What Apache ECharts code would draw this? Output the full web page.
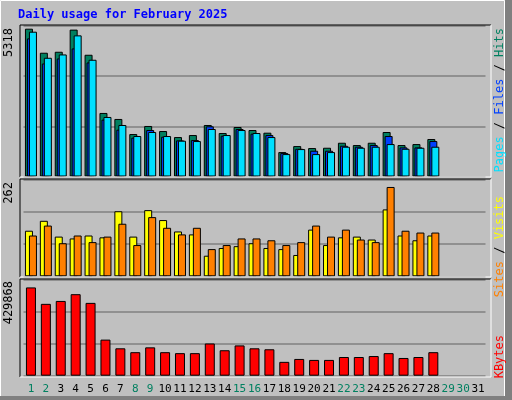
<!DOCTYPE html>
<html>
<head>
<meta charset="utf-8">
<script src="https://cdn.jsdelivr.net/npm/echarts@6/dist/echarts.min.js"></script>
<style>
html,body{margin:0;padding:0;background:#c0c0c0;}
#chart{width:512px;height:400px;}
</style>
</head>
<body>
<div id="chart"></div>
<script>
// 每日数据
const days = [];
for (let d = 1; d <= 31; d++) days.push(String(d));
const weekend = [1, 2, 8, 9, 15, 16, 22, 23, 29, 30];

const hits  = [5223,4373,4408,5190,4302,2245,2033,1500,1785,1607,1394,1465,1820,1536,1749,1642,1548,863,1075,1005,1016,1193,1111,1193,1572,1111,1146,1324];
const files = [4880,3994,4171,4526,4030,2009,1655,1371,1642,1406,1276,1288,1773,1442,1678,1513,1465,828,980,910,910,1087,1052,1111,1430,1028,1028,1253];
const pages = [5117,4195,4313,4987,4125,2104,1820,1430,1572,1430,1265,1253,1678,1465,1642,1536,1394,792,969,792,863,1052,1016,1052,1146,980,1016,1052];
const visits = [124,151,108,103,111,106,177,108,180,153,122,114,56,77,82,90,77,74,58,127,85,106,108,100,182,111,98,111];
const sites  = [111,138,90,111,93,108,143,85,161,132,114,132,74,85,103,103,98,85,93,138,108,127,100,93,243,124,119,119];
const kbytes = [396580,322760,335790,366180,327100,162100,123030,105660,127370,105660,101320,101320,144740,114340,136050,123030,118680,62240,75260,70920,70920,83950,83950,88290,101320,79600,83950,105660];

const maxHits = 5318, maxVisits = 262, maxKB = 429868;

const mono = 'DejaVu Sans Mono';
const grids = [
	{left: 23.5, right: 26.5, top: 26, height: 150.5},
	{left: 23.5, right: 26.5, top: 180, height: 96.3},
	{left: 23.5, right: 26.5, top: 280, height: 95.7}
];

function xAxis(i){
	return {
		type: 'category', gridIndex: i, data: days,
		axisLine: {show: false}, axisTick: {show: false},
		axisLabel: i < 2 ? {show: false} : {
			interval: 0, margin: 8, fontFamily: mono, fontSize: 11,
			formatter: v => weekend.indexOf(+v) >= 0 ? '{w|' + v + '}' : v,
			color: '#000',
			rich: {w: {color: '#008060', fontFamily: mono, fontSize: 11}}
		}
	};
}
function yAxis(i, max){
	return {
		type: 'value', gridIndex: i, min: 0, max: max, interval: max / 3,
		axisLabel: {show: false}, axisLine: {show: false}, axisTick: {show: false},
		splitLine: {lineStyle: {color: '#808080', width: 1.5}}
	};
}
function bar(name, data, color, i, width, gap){
	return {
		name: name, type: 'bar', xAxisIndex: i, yAxisIndex: i, data: data,
		barWidth: width, barGap: gap, animation: false,
		itemStyle: {color: color, borderColor: '#000', borderWidth: 1}
	};
}
function frame(top, bottom){
	return [
		{type: 'line', shape: {x1: 20, y1: top, x2: 491, y2: top}, style: {stroke: '#000', lineWidth: 1}, z: 100},
		{type: 'line', shape: {x1: 20, y1: top, x2: 20, y2: bottom}, style: {stroke: '#000', lineWidth: 1}, z: 100},
		{type: 'line', shape: {x1: 20, y1: bottom, x2: 491, y2: bottom}, style: {stroke: '#fff', lineWidth: 1}, z: 100},
		{type: 'line', shape: {x1: 491, y1: top, x2: 491, y2: bottom}, style: {stroke: '#fff', lineWidth: 1}, z: 100}
	];
}
function vtext(x, y, rich, text){
	return {type: 'text', x: x, y: y, rotation: Math.PI / 2,
		style: {text: text, rich: rich, fontFamily: mono, fontSize: 12, align: 'right', verticalAlign: 'middle'}, z: 100};
}

const chart = echarts.init(document.getElementById('chart'));
chart.setOption({
	backgroundColor: '#c0c0c0',
	animation: false,
	grid: grids,
	xAxis: [xAxis(0), xAxis(1), xAxis(2)],
	yAxis: [yAxis(0, maxHits), yAxis(1, maxVisits), yAxis(2, maxKB)],
	series: [
		bar('Hits', hits, '#008060', 0, 8, '-75%'),
		bar('Files', files, '#0040ff', 0, 8, '-75%'),
		bar('Pages', pages, '#00e0ff', 0, 8, '-75%'),
		bar('Visits', visits, '#ffff00', 1, 8, '-50%'),
		bar('Sites', sites, '#ff8000', 1, 8, '-50%'),
		bar('KBytes', kbytes, '#ff0000', 2, 10, '0%')
	],
	graphic: [
		{type: 'rect', shape: {x: 0.5, y: 0.5, width: 504, height: 398}, style: {fill: 'none', stroke: '#fff', lineWidth: 1}, z: 90},
		{type: 'rect', shape: {x: 505, y: 0, width: 7, height: 400}, style: {fill: '#808080'}, z: 90},
		{type: 'rect', shape: {x: 0, y: 396, width: 512, height: 4}, style: {fill: '#808080'}, z: 90},
		{type: 'text', x: 18, y: 9, style: {text: 'Daily usage for February 2025', fill: '#0000ff', fontFamily: mono, fontSize: 12, fontWeight: 'bold'}, z: 100},
		{type: 'text', x: 9, y: 28, rotation: Math.PI / 2, style: {text: String(maxHits), fill: '#000', fontFamily: mono, fontSize: 12, align: 'right', verticalAlign: 'middle'}, z: 100},
		{type: 'text', x: 9, y: 182, rotation: Math.PI / 2, style: {text: String(maxVisits), fill: '#000', fontFamily: mono, fontSize: 12, align: 'right', verticalAlign: 'middle'}, z: 100},
		{type: 'text', x: 9, y: 281, rotation: Math.PI / 2, style: {text: String(maxKB), fill: '#000', fontFamily: mono, fontSize: 12, align: 'right', verticalAlign: 'middle'}, z: 100},
		vtext(500, 28, {p: {fill: '#00e0ff'}, f: {fill: '#0040ff'}, h: {fill: '#008060'}, s: {fill: '#000'}},
			'{p|Pages}{s| / }{f|Files}{s| / }{h|Hits}'),
		vtext(500, 196, {st: {fill: '#ff8000'}, v: {fill: '#ffff00'}, s: {fill: '#000'}},
			'{st|Sites}{s| / }{v|Visits}'),
		vtext(500, 335, {k: {fill: '#ff0000'}}, '{k|KBytes}')
	].concat(frame(25, 177), frame(179, 277), frame(279, 377))
});
</script>
</body>
</html>
